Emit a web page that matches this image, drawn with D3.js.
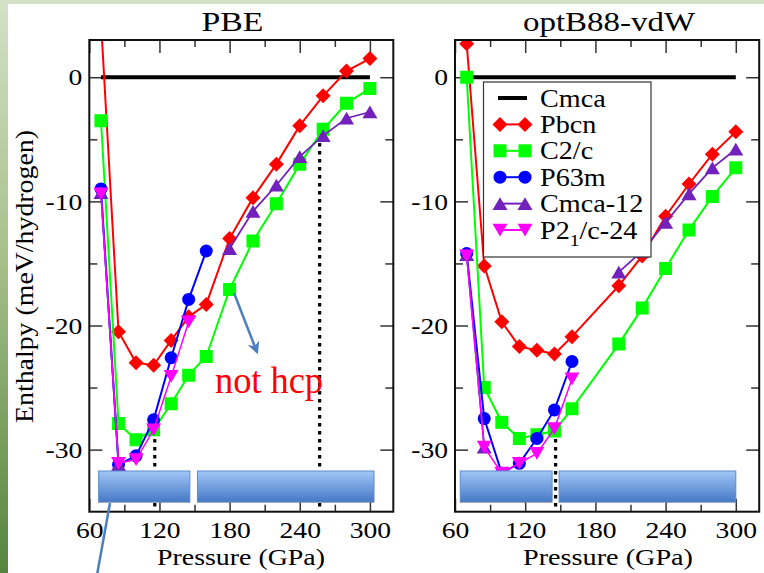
<!DOCTYPE html>
<html>
<head>
<meta charset="utf-8">
<script src="https://cdn.jsdelivr.net/npm/d3@7"></script>
<style>
  html, body { margin: 0; padding: 0; background: #ffffff; }
  svg { display: block; }
</style>
</head>
<body>
<svg id="chart" width="764" height="573"></svg>
<script>
// ---- data: relative enthalpy (meV/hydrogen) vs pressure (GPa) ----
const pbePressures = [70, 85, 100, 115, 130, 145, 160, 180, 200, 220, 240, 260, 280, 300];
const pbeCmca    = [0, 0, 0, 0, 0, 0, 0, 0, 0, 0, 0, 0, 0, 0];
const pbePbcn    = [4.5, -20.5, -23.0, -23.2, -21.2, -19.3, -18.3, -13.0, -9.7, -7.0, -3.9, -1.5, 0.5, 1.5];
const pbeC2c     = [-3.5, -27.9, -29.2, -28.4, -26.3, -24.0, -22.5, -17.1, -13.2, -10.2, -7.0, -4.2, -2.1, -0.9];
const pbeP63m    = [-9.0, -31.2, -30.5, -27.6, -22.6, -17.9, -14.0, null, null, null, null, null, null, null];
const pbeCmca12  = [-9.3, -31.2, null, null, null, null, null, -13.8, -10.8, -8.7, -6.4, -4.7, -3.3, -2.8];
const pbeP21c24  = [-9.4, -31.1, -30.8, -28.4, -24.1, -19.7, null, null, null, null, null, null, null, null];

const vdwPressures = [70, 85, 100, 115, 130, 145, 160, 200, 220, 240, 260, 280, 300];
const vdwCmca    = [0, 0, 0, 0, 0, 0, 0, 0, 0, 0, 0, 0, 0];
const vdwPbcn    = [2.7, -15.2, -19.7, -21.7, -22.0, -22.3, -20.9, -16.8, -14.4, -11.2, -8.6, -6.2, -4.4];
const vdwC2c     = [0.0, -25.0, -27.8, -29.1, -28.8, -28.5, -26.7, -21.5, -18.6, -15.4, -12.3, -9.6, -7.3];
const vdwP63m    = [-14.2, -27.5, -31.9, -31.1, -29.1, -26.8, -22.9, null, null, null, null, null, null];
const vdwCmca12  = [-14.3, -29.8, null, null, null, null, null, -15.7, -14.0, -11.7, -9.4, -7.3, -5.8];
const vdwP21c24  = [-14.4, -29.8, -31.9, -31.1, -30.3, -28.3, -24.3, null, null, null, null, null, null];

const seriesNames = ["Cmca", "Pbcn", "C2/c", "P63m", "Cmca-12", "P2_1/c-24"];
const panelTitles = ["PBE", "optB88-vdW"];

// transition pressures (GPa) marked by dotted lines, with the enthalpy where each line starts
const pbeTransitions = [[116, -28.5], [257, -5.3]];
const vdwTransitions = [[146, -28.5]];

const xMajorTicks = [60, 120, 180, 240, 300];
const xMinorTicks = [90, 150, 210, 270];
const yMajorTicks = [-30, -20, -10, 0];
const yMinorTicks = [-25, -15, -5];

// ---- styling ----
const FONT = "'Liberation Serif', 'Times New Roman', Times, serif";
const colors = ["#000000", "#ff0000", "#00ff00", "#0000ff", "#7221bc", "#ff00ff"];

// plot markers (size = bounding width squared)
const sym = {
  none: { draw() {} },
  diamond: { draw(c, s) { const r = Math.sqrt(s) / 2; c.moveTo(0, -r); c.lineTo(r, 0); c.lineTo(0, r); c.lineTo(-r, 0); c.closePath(); } },
  square: { draw(c, s) { const r = Math.sqrt(s) / 2; c.rect(-r, -r, 2 * r, 2 * r); } },
  circle: { draw(c, s) { const r = Math.sqrt(s) / 2; c.moveTo(r, 0); c.arc(0, 0, r, 0, 2 * Math.PI); } },
  up: { draw(c, s) { const r = Math.sqrt(s) / 2; c.moveTo(0, -r * 0.85); c.lineTo(r, r * 0.85); c.lineTo(-r, r * 0.85); c.closePath(); } },
  down: { draw(c, s) { const r = Math.sqrt(s) / 2; c.moveTo(0, r * 0.85); c.lineTo(r, -r * 0.85); c.lineTo(-r, -r * 0.85); c.closePath(); } }
};
const markerTypes = [sym.none, sym.diamond, sym.square, sym.circle, sym.up, sym.down];
const markerSizes = [0, 15 * 15, 13 * 13, 13 * 13, 15 * 15, 15 * 15];
const lineWidths = [4, 2, 2, 2, 1.8, 1.5];

const svg = d3.select("#chart").attr("font-family", FONT);
const W = 764, H = 573;

// slide background: light band on top, green strip on the left
const defs = svg.append("defs");
const strip = defs.append("linearGradient").attr("id", "strip").attr("x1", 0).attr("y1", 0).attr("x2", 0).attr("y2", 1);
strip.append("stop").attr("offset", "0%").attr("stop-color", "#d3e1c6");
strip.append("stop").attr("offset", "45%").attr("stop-color", "#a6c08a");
strip.append("stop").attr("offset", "100%").attr("stop-color", "#55853c");
const bar = defs.append("linearGradient").attr("id", "bar").attr("x1", 0).attr("y1", 0).attr("x2", 0).attr("y2", 1);
bar.append("stop").attr("offset", "0%").attr("stop-color", "#a2c6f7");
bar.append("stop").attr("offset", "100%").attr("stop-color", "#4579c6");
defs.append("marker").attr("id", "arrowhead").attr("viewBox", "0 0 10 10").attr("refX", 8).attr("refY", 5)
  .attr("markerWidth", 5).attr("markerHeight", 5).attr("orient", "auto")
  .append("path").attr("d", "M0,0 L10,5 L0,10 L3,5 z").attr("fill", "#4d7fbd");

svg.append("rect").attr("width", W).attr("height", H).attr("fill", "#ffffff");
svg.append("rect").attr("width", W).attr("height", 4).attr("fill", "#d3e1c6");
svg.append("rect").attr("width", 8).attr("height", H).attr("fill", "url(#strip)");

const TEXT_STRETCH = 1.15;

const panels = [
  { title: panelTitles[0], left: 89.3, right: 393.3, pressures: pbePressures,
    series: [pbeCmca, pbePbcn, pbeC2c, pbeP63m, pbeCmca12, pbeP21c24], transitions: pbeTransitions,
    bands: [[68, 146], [152.5, 303.5]], titleX: 232.5, titleW: 62, labelX: 241, labelW: 168 },
  { title: panelTitles[1], left: 455, right: 759.2, pressures: vdwPressures,
    series: [vdwCmca, vdwPbcn, vdwC2c, vdwP63m, vdwCmca12, vdwP21c24], transitions: vdwTransitions,
    bands: [[64.5, 143], [149, 300]], titleX: 609, titleW: 172, labelX: 608, labelW: 170 }
];
const plotTop = 40, plotBottom = 511.7;

panels.forEach((p, pi) => {
  const x = d3.scaleLinear().domain([60, 320]).range([p.left, p.right]);
  const y = d3.scaleLinear().domain([-35, 3]).range([plotBottom, plotTop]);
  const g = svg.append("g");

  const clipId = "clip" + pi;
  defs.append("clipPath").attr("id", clipId).append("rect")
    .attr("x", p.left).attr("y", plotTop).attr("width", p.right - p.left).attr("height", plotBottom - plotTop);

  // axes: ticks point inward on all four sides
  const styleAxis = sel => {
    sel.attr("font-family", FONT).attr("font-size", 24);
    sel.select(".domain").remove();
    sel.selectAll(".tick line").attr("stroke", "#333").attr("stroke-width", 1.5);
    sel.selectAll(".tick text").attr("fill", "#000");
  };
  const plain = d => String(d);
  g.append("g").attr("transform", `translate(0,${plotBottom})`)
    .call(d3.axisBottom(x).tickValues(xMajorTicks).tickSizeInner(-13).tickSizeOuter(0).tickPadding(9).tickFormat(plain))
    .call(styleAxis)
    .selectAll(".tick text").attr("transform", `scale(${TEXT_STRETCH},1)`);
  g.append("g").attr("transform", `translate(0,${plotBottom})`)
    .call(d3.axisBottom(x).tickValues(xMinorTicks).tickSizeInner(-7).tickSizeOuter(0).tickFormat(""))
    .call(styleAxis);
  g.append("g").attr("transform", `translate(0,${plotTop})`)
    .call(d3.axisTop(x).tickValues(xMajorTicks).tickSizeInner(-13).tickSizeOuter(0).tickFormat(""))
    .call(styleAxis);
  g.append("g").attr("transform", `translate(0,${plotTop})`)
    .call(d3.axisTop(x).tickValues(xMinorTicks).tickSizeInner(-7).tickSizeOuter(0).tickFormat(""))
    .call(styleAxis);
  g.append("g").attr("transform", `translate(${p.left},0)`)
    .call(d3.axisLeft(y).tickValues(yMajorTicks).tickSizeInner(-13).tickSizeOuter(0).tickPadding(6).tickFormat(plain))
    .call(styleAxis)
    .selectAll(".tick text").attr("transform", `scale(${TEXT_STRETCH},1)`);
  g.append("g").attr("transform", `translate(${p.left},0)`)
    .call(d3.axisLeft(y).tickValues(yMinorTicks).tickSizeInner(-8).tickSizeOuter(0).tickFormat(""))
    .call(styleAxis);
  g.append("g").attr("transform", `translate(${p.right},0)`)
    .call(d3.axisRight(y).tickValues(yMajorTicks).tickSizeInner(-13).tickSizeOuter(0).tickFormat(""))
    .call(styleAxis);
  g.append("g").attr("transform", `translate(${p.right},0)`)
    .call(d3.axisRight(y).tickValues(yMinorTicks).tickSizeInner(-8).tickSizeOuter(0).tickFormat(""))
    .call(styleAxis);

  // transition markers
  p.transitions.forEach(([px, py]) => {
    g.append("line").attr("x1", x(px)).attr("x2", x(px)).attr("y1", y(py)).attr("y2", plotBottom)
      .attr("stroke", "#000").attr("stroke-width", 3.2).attr("stroke-dasharray", "3.5,4.5");
  });

  // series: line then markers, in legend order
  const plot = g.append("g").attr("clip-path", `url(#${clipId})`);
  const segLine = d3.line().defined(d => d[1] !== null).x(d => x(d[0])).y(d => y(d[1]));
  p.series.forEach((vals, si) => {
    const full = p.pressures.map((pr, i) => [pr, vals[i]]);
    const pts = full.filter(d => d[1] !== null);
    if (si === 0) {
      // reference phase: a single flat line across the computed range
      plot.append("path").attr("d", segLine([pts[0], pts[pts.length - 1]]))
        .attr("fill", "none").attr("stroke", colors[si]).attr("stroke-width", lineWidths[si]);
      return;
    }
    plot.append("path").attr("d", segLine(full))
      .attr("fill", "none").attr("stroke", colors[si]).attr("stroke-width", lineWidths[si]);
    plot.selectAll(null).data(pts).join("path")
      .attr("transform", d => `translate(${x(d[0])},${y(d[1])})`)
      .attr("d", d3.symbol().type(markerTypes[si]).size(markerSizes[si]))
      .attr("fill", colors[si]);
  });

  // frame
  g.append("rect").attr("x", p.left).attr("y", plotTop).attr("width", p.right - p.left).attr("height", plotBottom - plotTop)
    .attr("fill", "none").attr("stroke", "#111").attr("stroke-width", 2);

  // phase bands along the bottom
  p.bands.forEach(([a, b]) => {
    g.append("rect").attr("x", x(a)).attr("y", 471).attr("width", x(b) - x(a)).attr("height", 31)
      .attr("fill", "url(#bar)").attr("stroke", "#5a8bcc").attr("stroke-width", 1);
    g.append("line").attr("x1", x(a)).attr("x2", x(b)).attr("y1", 502.5).attr("y2", 502.5)
      .attr("stroke", "#8a8a8a").attr("stroke-width", 1.2).attr("stroke-dasharray", "1,1");
  });

  // titles
  g.append("text").attr("x", p.titleX - p.titleW / 2).attr("y", 31)
    .attr("textLength", p.titleW).attr("lengthAdjust", "spacingAndGlyphs")
    .attr("font-size", 27).text(p.title);
  g.append("text").attr("x", p.labelX - p.labelW / 2).attr("y", 564.5)
    .attr("textLength", p.labelW).attr("lengthAdjust", "spacingAndGlyphs")
    .attr("font-size", 24).text("Pressure (GPa)");

  // legend in the second panel
  if (pi === 1) {
    const lg = g.append("g");
    lg.append("rect").attr("x", 483.5).attr("y", 82).attr("width", 167.5).attr("height", 175)
      .attr("fill", "#fff").attr("stroke", "#333").attr("stroke-width", 1.2);
    seriesNames.forEach((name, si) => {
      const ly = 98 + si * 26.4;
      const x1 = si === 0 ? 498 : 500, x2 = si === 0 ? 527 : 525;
      lg.append("line").attr("x1", x1).attr("x2", x2).attr("y1", ly).attr("y2", ly)
        .attr("stroke", colors[si]).attr("stroke-width", si === 0 ? 4 : 2);
      [500, 525].forEach(mx => {
        lg.append("path").attr("transform", `translate(${mx},${ly})`)
          .attr("d", d3.symbol().type(markerTypes[si]).size(markerSizes[si])).attr("fill", colors[si]);
      });
      const t = lg.append("text").attr("transform", `translate(540,${ly + 8.5}) scale(${TEXT_STRETCH},1)`)
        .attr("font-size", 24.5);
      const parts = name.split("_");
      t.append("tspan").text(parts[0]);
      if (parts.length > 1) {
        t.append("tspan").attr("dy", 7).attr("font-size", 17).text(parts[1][0]);
        t.append("tspan").attr("dy", -7).text(parts[1].slice(1));
      }
    });
  }
});

// y axis label
svg.append("text").attr("transform", `translate(33,423) rotate(-90)`)
  .attr("textLength", 293).attr("lengthAdjust", "spacingAndGlyphs")
  .attr("font-size", 25).text("Enthalpy (meV/hydrogen)");

// annotation on the left panel
svg.append("text").attr("x", 215).attr("y", 393).attr("fill", "#ff0000")
  .attr("textLength", 108).attr("lengthAdjust", "spacingAndGlyphs")
  .attr("font-size", 37).text("not hcp");
svg.append("line").attr("x1", 234).attr("y1", 293).attr("x2", 257).attr("y2", 352)
  .attr("stroke", "#4d7fbd").attr("stroke-width", 2.5).attr("marker-end", "url(#arrowhead)");
svg.append("line").attr("x1", 110).attr("y1", 503).attr("x2", 97).attr("y2", 575)
  .attr("stroke", "#4d7fbd").attr("stroke-width", 2.5);
</script>
</body>
</html>
